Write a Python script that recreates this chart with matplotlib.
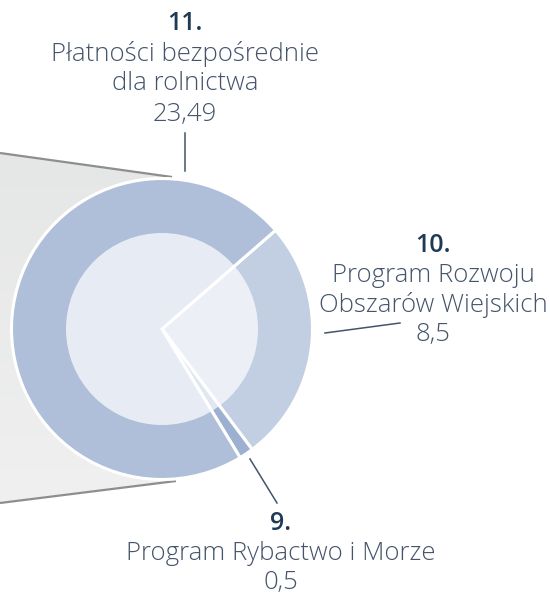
import matplotlib
matplotlib.use("Agg")
import matplotlib.pyplot as plt
import numpy as np
from matplotlib.patches import Polygon, Circle
from matplotlib.colors import LinearSegmentedColormap

# data
values = [8.5, 0.5, 23.49]
numbers = ["10.", "9.", "11."]
names = ["Program Rozwoju\nObszarów Wiejskich", "Program Rybactwo i Morze", "Płatności bezpośrednie\ndla rolnictwa"]
value_labels = ["8,5", "0,5", "23,49"]
colors = ["#C2CFE2", "#9DB0D1", "#AFBFD9"]

W, H = 550, 594
fig = plt.figure(figsize=(W / 100, H / 100), dpi=100)
ax = fig.add_axes([0, 0, 1, 1])

cx, cy, R = 162, H - 329, 150.5
r_in = 96

# connector band on the left (pie-of-pie)
poly_pts = [(0, H - 153), (172, H - 177), (176, H - 481), (0, H - 503)]
band = Polygon(poly_pts, closed=True, facecolor="none", edgecolor="none", zorder=1)
ax.add_patch(band)
grad = np.linspace(0, 1, 256).reshape(-1, 1)
cmap = LinearSegmentedColormap.from_list("g", ["#E5E7E6", "#EFF0EF"])
im = ax.imshow(grad, extent=[0, 180, H - 505, H - 150], origin="upper", cmap=cmap,
               aspect="auto", zorder=1)
im.set_clip_path(band)
ax.plot([0, 172], [H - 153, H - 177], color="#8E8E8E", lw=1.6, zorder=2, solid_capstyle="butt")
ax.plot([0, 176], [H - 503, H - 481], color="#8E8E8E", lw=1.6, zorder=2, solid_capstyle="butt")

wedges, _ = ax.pie(values, center=(cx, cy), radius=R, startangle=41, counterclock=False,
                   colors=colors, wedgeprops=dict(edgecolor="white", linewidth=2.2),
                   frame=True)
for w in wedges:
    w.set_zorder(3)
ax.add_patch(Circle((cx, cy), r_in, facecolor="white", alpha=0.7, edgecolor="none", zorder=4))

# label leader lines
lc = "#44546A"
ax.plot([185, 185], [H - 133, H - 171], color=lc, lw=1.1, zorder=5)
ax.plot([325, 400], [H - 333, H - 323], color=lc, lw=1.1, zorder=5)
ax.plot([250, 277], [H - 459, H - 503], color=lc, lw=1.1, zorder=5)

fam = ["Open Sans", "DejaVu Sans"]
fs = 18.5
num_c = "#1F3A55"
txt_c = "#44546A"
label_pos = [(433, 245), (281, 523), (185, 24)]
for (x, y), n, nm, v in zip(label_pos, numbers, names, value_labels):
    ax.text(x, H - y, n, ha="center", va="center", fontsize=fs - 0.5, fontweight="semibold",
            color=num_c, family=fam, zorder=6)
    lines = nm.split("\n") + [v]
    for i, ln in enumerate(lines):
        ax.text(x, H - (y + 30 * (i + 1)), ln, ha="center", va="center", fontsize=fs,
                fontweight="light", color=txt_c, family=fam, zorder=6)

ax.set_xlim(0, W)
ax.set_ylim(0, H)
ax.set_aspect("auto")
ax.axis("off")
fig.savefig("out.png", dpi=100)
